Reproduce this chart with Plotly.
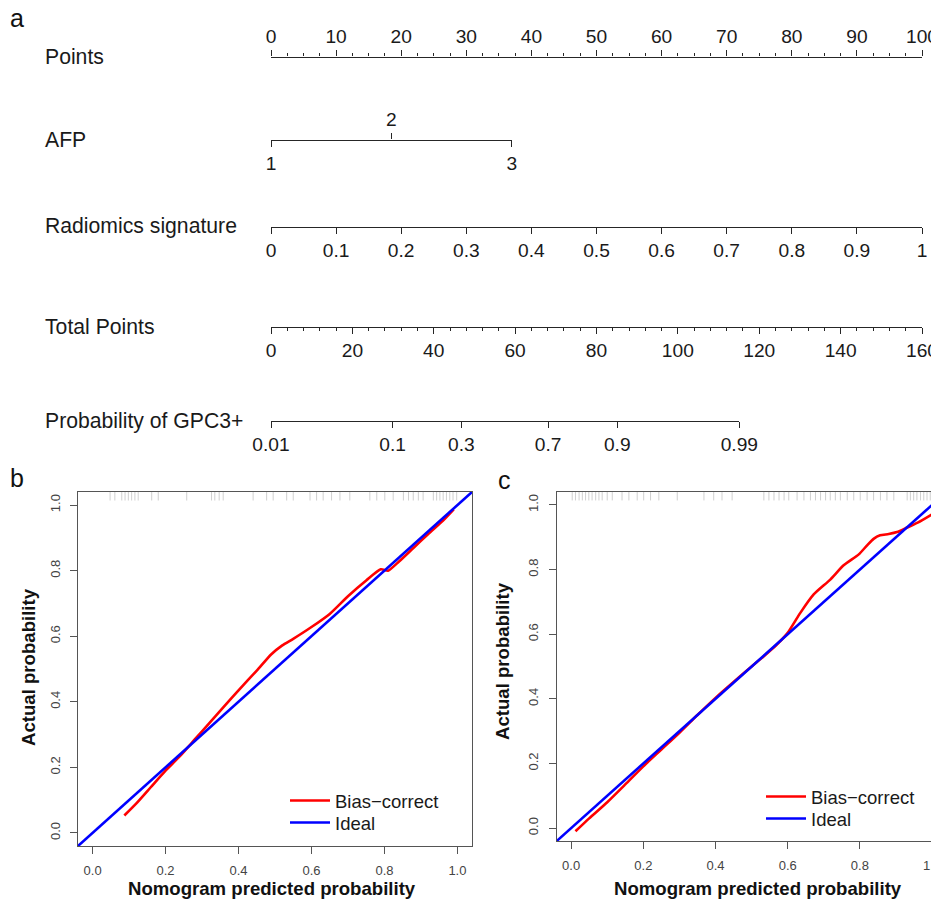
import plotly.graph_objects as go

W, H = 939, 902
OFF = 8   # the page body margin shifts the figure by 8 px; positions below are page pixels
FONT = "Liberation Sans, Arial, sans-serif"

# ---------------- data: nomogram ----------------
points_ticks = [0, 10, 20, 30, 40, 50, 60, 70, 80, 90, 100]
afp_levels = [1, 2, 3]
afp_points = [0, 18.5, 37]
radiomics_ticks = [0, 0.1, 0.2, 0.3, 0.4, 0.5, 0.6, 0.7, 0.8, 0.9, 1]
radiomics_labels = ["0", "0.1", "0.2", "0.3", "0.4", "0.5", "0.6", "0.7", "0.8", "0.9", "1"]
radiomics_points = [0, 100]
total_ticks = [0, 20, 40, 60, 80, 100, 120, 140, 160]
prob_ticks = ["0.01", "0.1", "0.3", "0.7", "0.9", "0.99"]
prob_total_points = [0, 29.9, 46.8, 68.1, 85.1, 115.1]
row_names = ["Points", "AFP", "Radiomics signature", "Total Points", "Probability of GPC3+"]

# ---------------- data: calibration curves ----------------
b_pred = [0.087, 0.12, 0.16, 0.20, 0.24, 0.28, 0.32, 0.36, 0.40, 0.45, 0.49, 0.52, 0.55,
          0.60, 0.65, 0.70, 0.75, 0.79, 0.81, 0.84, 0.88, 0.92, 0.96, 0.99]
b_actual = [0.053, 0.09, 0.14, 0.19, 0.235, 0.285, 0.335, 0.385, 0.435, 0.495, 0.545, 0.572, 0.592,
            0.628, 0.668, 0.722, 0.770, 0.804, 0.800, 0.828, 0.870, 0.912, 0.952, 0.987]
b_rug = [0.048, 0.061, 0.08, 0.089, 0.098, 0.107, 0.116, 0.125, 0.162, 0.18, 0.258, 0.326, 0.335,
         0.347, 0.358, 0.44, 0.477, 0.495, 0.532, 0.55, 0.596, 0.614, 0.632, 0.655, 0.678, 0.705,
         0.76, 0.779, 0.801, 0.824, 0.852, 0.866, 0.879, 0.893, 0.906, 0.934, 0.943, 0.952, 0.961,
         0.97, 0.979, 0.988, 0.998]

c_pred = [0.012, 0.05, 0.10, 0.15, 0.20, 0.25, 0.30, 0.35, 0.40, 0.45, 0.50, 0.534, 0.57, 0.60,
          0.635, 0.672, 0.718, 0.755, 0.797, 0.82, 0.838, 0.856, 0.88, 0.903, 0.931, 0.96, 1.0]
c_actual = [-0.01, 0.03, 0.08, 0.135, 0.191, 0.243, 0.295, 0.35, 0.403, 0.452, 0.50, 0.532, 0.568,
            0.604, 0.666, 0.723, 0.769, 0.813, 0.847, 0.875, 0.895, 0.906, 0.910, 0.916, 0.93, 0.945, 0.971]
c_rug = [0.003, 0.012, 0.022, 0.031, 0.04, 0.049, 0.058, 0.068, 0.077, 0.086, 0.1, 0.114, 0.141,
         0.16, 0.183, 0.201, 0.22, 0.243, 0.294, 0.368, 0.395, 0.418, 0.446, 0.534, 0.548, 0.562,
         0.576, 0.59, 0.603, 0.626, 0.645, 0.663, 0.677, 0.691, 0.705, 0.718, 0.732, 0.746, 0.765,
         0.783, 0.801, 0.82, 0.838, 0.857, 0.875, 0.894, 0.931, 0.94, 0.949, 0.958, 0.968, 0.977,
         0.986, 0.995, 1.0]
ideal = [-0.1, 1.1]
legend_names = ["Bias\u2212correct", "Ideal"]

# ---------------- layout constants (page pixels) ----------------
NOMO_L, NOMO_R = 271, 922           # pixel span of the 0..100 points scale
ROW_Y = [56.5, 139.5, 226.5, 326.5, 421]
LINE_C = "#262626"
TICK_FONT = dict(family=FONT, size=19.2, color="#1a1a1a")


def fx(px):
    return (px - OFF) / W


def fy(py):
    return 1 - (py - OFF) / H


def pts_to_paper(p):
    return fx(NOMO_L + p / 100.0 * (NOMO_R - NOMO_L))


fig = go.Figure()
layout = dict(
    template="none",
    width=W, height=H, margin=dict(l=0, r=0, t=0, b=0, pad=0, autoexpand=False),
    paper_bgcolor="white", plot_bgcolor="rgba(0,0,0,0)",
    showlegend=True, hovermode=False,
    yaxis=dict(domain=[0.5, 1], range=[0, 1], visible=False, anchor="free", position=0,
               automargin=False),
)


def nomo_axis(key, rng, dom_pts, ypx, side, tickvals, ticktext, minor=None):
    ax = dict(
        domain=[pts_to_paper(dom_pts[0]), pts_to_paper(dom_pts[1])],
        range=rng, anchor="free", position=fy(ypx), side=side,
        showline=True, linecolor=LINE_C, linewidth=1.4,
        ticks="outside", ticklen=6, tickwidth=1.2, tickcolor=LINE_C,
        tickvals=tickvals, ticktext=ticktext, tickfont=TICK_FONT,
        showgrid=False, zeroline=False, fixedrange=True, automargin=False,
    )
    if minor:
        ax["minor"] = minor
    layout[key] = ax
    fig.add_trace(go.Scatter(x=tickvals, y=[0.5] * len(tickvals), mode="markers",
                             marker=dict(opacity=0), xaxis=key.replace("axis", ""), yaxis="y",
                             hoverinfo="skip", showlegend=False))


# Points
nomo_axis("xaxis", [0, 100], [0, 100], ROW_Y[0], "top", points_ticks, [str(v) for v in points_ticks],
          minor=dict(dtick=2.5, ticklen=3, tickwidth=1.1, tickcolor=LINE_C, ticks="outside"))
# AFP (labels 1 and 3 below, 2 above)
nomo_axis("xaxis2", [afp_levels[0], afp_levels[-1]], [afp_points[0], afp_points[-1]], ROW_Y[1], "bottom",
          [afp_levels[0], afp_levels[-1]], [str(afp_levels[0]), str(afp_levels[-1])])
nomo_axis("xaxis3", [afp_levels[0], afp_levels[-1]], [afp_points[0], afp_points[-1]], ROW_Y[1], "top",
          [afp_levels[1]], [str(afp_levels[1])])
# Radiomics signature
nomo_axis("xaxis4", [radiomics_ticks[0], radiomics_ticks[-1]], radiomics_points, ROW_Y[2], "bottom",
          radiomics_ticks, radiomics_labels)
# Total points
tp_max = total_ticks[-1]
nomo_axis("xaxis5", [0, tp_max], [0, 100], ROW_Y[3], "bottom", total_ticks, [str(v) for v in total_ticks],
          minor=dict(dtick=4, ticklen=3, tickwidth=1.1, tickcolor=LINE_C, ticks="outside"))
# Probability
nomo_axis("xaxis6", [prob_total_points[0], prob_total_points[-1]],
          [prob_total_points[0] * 100 / tp_max, prob_total_points[-1] * 100 / tp_max],
          ROW_Y[4], "bottom", prob_total_points, prob_ticks)

annotations = []
for name, yp in zip(row_names, ROW_Y):
    annotations.append(dict(text=name, x=fx(43), y=fy(yp), xanchor="left",
                            font=dict(family=FONT, size=21.2, color="#1a1a1a")))

# ---------------- calibration panels ----------------
FRAME_C = "#555555"
panels = [
    dict(x="x7", y="y2", xdom=[fx(78), fx(472)], ydom=[fy(846), fy(492)],
         pred=b_pred, act=b_actual, rug=b_rug, legends=["legend", "legend2"],
         leg_x=285, leg_y=[801, 823]),
    dict(x="x8", y="y3", xdom=[fx(556.7), fx(946.5)], ydom=[fy(841), fy(492)],
         pred=c_pred, act=c_actual, rug=c_rug, legends=["legend3", "legend4"],
         leg_x=761, leg_y=[797, 819]),
]
calib_ticks = [0, 0.2, 0.4, 0.6, 0.8, 1.0]
LEG_FONT = dict(family=FONT, size=18.5, color="#1a1a1a")
for p in panels:
    xk = "xaxis" + p["x"][1:]
    yk = "yaxis" + p["y"][1:]
    common = dict(range=[-0.04, 1.04], showline=True, mirror=True, linecolor=FRAME_C, linewidth=1.3,
                  ticks="outside", ticklen=7, tickcolor=FRAME_C, tickvals=calib_ticks, tickformat=".1f",
                  tickfont=dict(family=FONT, size=13, color="#444444"), ticklabelstandoff=5,
                  showgrid=False, zeroline=False, automargin=False)
    layout[xk] = dict(domain=p["xdom"], anchor=p["y"], **common)
    layout[yk] = dict(domain=p["ydom"], anchor=p["x"], tickangle=-90, **common)
    # rug of predicted probabilities along the top
    fig.add_trace(go.Scatter(x=p["rug"], y=[1.029] * len(p["rug"]), mode="markers",
                             marker=dict(symbol="line-ns-open", size=7, color="rgba(120,120,120,0.35)",
                                         line=dict(width=1, color="rgba(120,120,120,0.35)")),
                             xaxis=p["x"], yaxis=p["y"], hoverinfo="skip", showlegend=False))
    fig.add_trace(go.Scatter(x=p["pred"], y=p["act"], mode="lines", name=legend_names[0],
                             line=dict(color="#FF0000", width=2.6, shape="spline", smoothing=0.6),
                             xaxis=p["x"], yaxis=p["y"], legend=p["legends"][0]))
    fig.add_trace(go.Scatter(x=ideal, y=ideal, mode="lines", name=legend_names[1],
                             line=dict(color="#0000FF", width=2.6),
                             xaxis=p["x"], yaxis=p["y"], legend=p["legends"][1]))
    for lk, ly in zip(p["legends"], p["leg_y"]):
        layout[lk] = dict(x=fx(p["leg_x"]), y=fy(ly), xanchor="left", yanchor="middle",
                          font=LEG_FONT, bgcolor="rgba(0,0,0,0)", itemclick=False,
                          itemwidth=40)

TITLE_FONT = dict(family=FONT, size=18.6, color="#111111", weight="bold")
annotations += [
    dict(text="Actual probability", x=fx(28), y=fy(667), textangle=-90, font=TITLE_FONT),
    dict(text="Nomogram predicted probability", x=fx(272), y=fy(901), yanchor="bottom",
         font=TITLE_FONT),
    dict(text="Actual probability", x=fx(502), y=fy(661), textangle=-90, font=TITLE_FONT),
    dict(text="Nomogram predicted probability", x=fx(758), y=fy(901), yanchor="bottom",
         font=TITLE_FONT),
]
for lab, xp, yp in [("a", 17, 18), ("b", 17, 478), ("c", 505, 480)]:
    annotations.append(dict(text=lab, x=fx(xp), y=fy(yp),
                            font=dict(family=FONT, size=25, color="#111111")))
for a in annotations:
    a.setdefault("xref", "paper")
    a.setdefault("yref", "paper")
    a.setdefault("showarrow", False)
    a.setdefault("xanchor", "center")
    a.setdefault("yanchor", "middle")
layout["annotations"] = annotations

fig.update_layout(**layout)
fig.write_html("out.html")
